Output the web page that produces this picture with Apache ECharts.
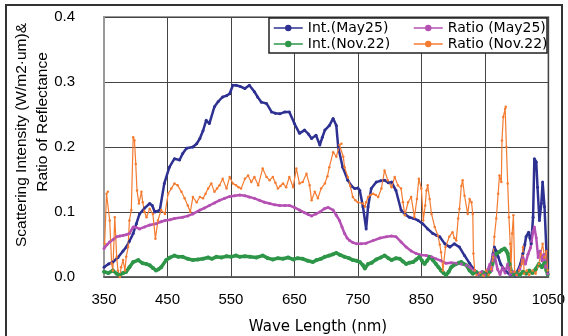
<!DOCTYPE html>
<html><head><meta charset="utf-8">
<script src="https://cdn.jsdelivr.net/npm/echarts@6/dist/echarts.min.js"></script>
<style>html,body{margin:0;padding:0;background:#fff}#c{width:568px;height:336px}</style>
</head><body><div id="c"></div>
<script>
// wavelength (nm) / value pairs
const intMay25 = [[350,0.015],[357,0.02],[364,0.023],[372,0.03],[380,0.04],[385,0.046],[390,0.055],[396,0.067],[401,0.082],[406,0.097],
[414,0.106],[422,0.113],[426,0.11],[430,0.10],[438,0.103],[445,0.144],[453,0.169],[461,0.182],[469,0.18],[474,0.19],
[480,0.198],[490,0.2],[496,0.205],[501,0.213],[506,0.225],[511,0.241],[516,0.236],[524,0.262],[530,0.27],[537,0.277],
[543,0.279],[548,0.282],[553,0.295],[558,0.295],[565,0.293],[572,0.29],[579,0.295],[587,0.285],[592,0.277],[598,0.269],
[606,0.267],[614,0.254],[620,0.252],[627,0.251],[635,0.254],[642,0.254],[650,0.236],[658,0.221],[666,0.226],[672,0.22],
[677,0.213],[684,0.218],[690,0.203],[694,0.215],[698,0.226],[705,0.233],[711,0.244],[716,0.233],[719,0.2],[726,0.169],
[734,0.149],[740,0.14],[745,0.136],[750,0.137],[753,0.133],[758,0.108],[763,0.074],[766,0.108],[771,0.136],[779,0.146],
[786,0.148],[792,0.149],[798,0.145],[803,0.146],[810,0.133],[818,0.103],[825,0.096],[831,0.092],[838,0.09],[845,0.087],
[852,0.082],[860,0.074],[868,0.067],[874,0.064],[879,0.062],[887,0.051],[895,0.046],[902,0.051],[910,0.046],[918,0.033],
[926,0.021],[930,0.015],[934,0.01],[939,0.005],[946,0.008],[952,0.005],[958,0.01],[963,0.036],[965,0.046],[968,0.04],
[971,0.031],[975,0.02],[978,0.015],[984,0.008],[990,0.003],[994,0.005],[998,0.002],[1002,0.01],[1006,0.02],[1010,0.036],
[1013,0.05],[1015,0.062],[1019,0.069],[1021,0.06],[1023,0.051],[1026,0.092],[1028,0.182],[1031,0.177],[1033,0.138],[1036,0.087],
[1039,0.113],[1041,0.146],[1044,0.108],[1047,0.041],[1049,0.008]];

const intNov22 = [[350,0.008],[357,0.006],[364,0.01],[370,0.005],[375,0.003],[380,0.006],[385,0.008],[390,0.015],[396,0.023],[404,0.026],
[411,0.021],[417,0.02],[422,0.018],[427,0.014],[432,0.01],[436,0.012],[440,0.015],[448,0.026],[454,0.03],[461,0.033],
[467,0.031],[474,0.031],[482,0.028],[490,0.026],[498,0.027],[506,0.028],[514,0.03],[520,0.028],[527,0.031],[535,0.03],
[543,0.032],[550,0.031],[558,0.033],[564,0.031],[572,0.032],[580,0.031],[590,0.03],[600,0.033],[608,0.029],[616,0.027],
[624,0.029],[632,0.028],[640,0.03],[648,0.027],[655,0.029],[663,0.028],[671,0.025],[679,0.023],[685,0.026],[692,0.028],
[698,0.031],[705,0.033],[711,0.035],[716,0.037],[722,0.034],[729,0.031],[736,0.029],[742,0.026],[748,0.025],[753,0.023],
[758,0.018],[761,0.013],[766,0.02],[772,0.022],[779,0.027],[786,0.03],[792,0.033],[798,0.029],[803,0.026],[810,0.029],
[816,0.028],[821,0.024],[826,0.02],[831,0.022],[837,0.023],[842,0.027],[847,0.031],[851,0.025],[855,0.02],[859,0.025],
[863,0.031],[868,0.026],[873,0.02],[877,0.015],[881,0.01],[885,0.006],[889,0.003],[893,0.008],[897,0.015],[901,0.018],
[905,0.02],[909,0.022],[913,0.023],[917,0.02],[921,0.018],[926,0.01],[931,0.005],[936,0.008],[942,0.004],[948,0.007],
[953,0.003],[958,0.008],[962,0.02],[965,0.03],[968,0.036],[972,0.038],[976,0.041],[981,0.044],[984,0.04],[986,0.036],
[989,0.02],[992,0.007],[996,0.004],[1000,0.006],[1005,0.003],[1010,0.008],[1015,0.005],[1020,0.01],[1025,0.006],[1030,0.012],
[1035,0.02],[1040,0.015],[1044,0.022],[1047,0.01],[1049,0.004]];

const ratioMay25 = [[350,0.044],[355,0.05],[359,0.054],[365,0.058],[370,0.062],[375,0.063],[380,0.064],[385,0.065],[390,0.067],[396,0.077],
[401,0.076],[406,0.074],[414,0.077],[422,0.08],[432,0.082],[440,0.085],[446,0.087],[454,0.088],[461,0.09],[474,0.092],
[482,0.094],[490,0.097],[501,0.103],[508,0.106],[516,0.11],[524,0.114],[532,0.118],[540,0.121],[548,0.124],[556,0.125],
[564,0.126],[572,0.125],[579,0.123],[587,0.121],[595,0.118],[603,0.115],[611,0.113],[619,0.111],[627,0.11],[635,0.11],
[642,0.11],[650,0.107],[658,0.103],[666,0.099],[672,0.096],[677,0.094],[684,0.097],[690,0.1],[697,0.105],[703,0.107],
[711,0.103],[716,0.095],[721,0.087],[725,0.077],[729,0.067],[733,0.06],[737,0.056],[742,0.053],[748,0.051],[755,0.051],
[763,0.052],[774,0.056],[785,0.06],[795,0.062],[803,0.063],[810,0.062],[818,0.054],[826,0.046],[834,0.04],[842,0.036],
[850,0.034],[858,0.033],[866,0.031],[873,0.028],[881,0.025],[889,0.021],[897,0.022],[905,0.021],[913,0.02],[921,0.018],
[928,0.014],[934,0.01],[940,0.004],[945,0.008],[950,0.003],[955,0.012],[958,0.02],[961,0.01],[963,0.035],[966,0.03],
[970,0.012],[974,0.004],[978,0.015],[982,0.006],[986,0.02],[990,0.004],[995,0.008],[1000,0.003],[1005,0.012],[1010,0.03],
[1014,0.02],[1018,0.035],[1022,0.045],[1026,0.07],[1028,0.077],[1031,0.06],[1034,0.03],[1037,0.04],[1040,0.025],[1043,0.035],
[1046,0.015],[1049,0.005]];

const ratioNov22 = [[351,0.051],[354,0.128],[356,0.131],[359,0.087],[362,0.021],[364,0.01],[367,0.092],[370,0.031],[372,0.01],[375,0.0],
[377,0.015],[380,0.026],[383,0.01],[385,0.031],[388,0.046],[390,0.087],[393,0.103],[396,0.215],[398,0.21],[400,0.174],
[402,0.133],[405,0.113],[409,0.131],[411,0.115],[414,0.1],[417,0.092],[422,0.105],[427,0.097],[431,0.059],[435,0.087],
[440,0.103],[446,0.097],[451,0.128],[456,0.136],[461,0.144],[466,0.141],[472,0.131],[477,0.121],[482,0.11],[486,0.1],
[490,0.123],[496,0.115],[501,0.123],[506,0.121],[510,0.128],[514,0.136],[519,0.144],[524,0.131],[528,0.136],[532,0.141],
[537,0.151],[543,0.136],[548,0.154],[553,0.144],[558,0.141],[562,0.138],[566,0.136],[572,0.151],[577,0.156],[582,0.146],
[587,0.154],[593,0.141],[600,0.167],[606,0.154],[611,0.149],[616,0.154],[620,0.145],[624,0.136],[628,0.14],[632,0.144],
[637,0.138],[642,0.154],[648,0.138],[653,0.167],[658,0.144],[663,0.146],[669,0.159],[674,0.141],[677,0.118],[682,0.131],
[687,0.121],[692,0.136],[698,0.144],[702,0.155],[705,0.169],[711,0.192],[716,0.185],[721,0.203],[724,0.205],[727,0.185],
[729,0.169],[734,0.154],[738,0.14],[742,0.123],[746,0.118],[750,0.115],[758,0.113],[761,0.108],[763,0.115],[766,0.123],
[770,0.126],[774,0.128],[778,0.126],[782,0.123],[787,0.136],[792,0.164],[797,0.149],[803,0.138],[808,0.154],[813,0.141],
[818,0.136],[821,0.115],[824,0.095],[829,0.115],[834,0.123],[839,0.092],[843,0.12],[846,0.151],[850,0.136],[853,0.087],
[856,0.11],[858,0.133],[860,0.141],[863,0.12],[866,0.097],[871,0.077],[876,0.064],[879,0.05],[881,0.038],[884,0.01],
[888,0.046],[894,0.062],[899,0.069],[902,0.06],[905,0.056],[908,0.09],[910,0.105],[913,0.14],[915,0.149],[918,0.125],
[923,0.097],[926,0.12],[929,0.115],[931,0.097],[932,0.036],[934,0.01],[937,0.003],[942,0.006],[948,0.002],[952,0.01],
[956,0.003],[960,0.012],[963,0.03],[965,0.062],[968,0.09],[971,0.128],[973,0.156],[976,0.146],[977,0.21],[979,0.246],
[982,0.259],[983,0.262],[984,0.2],[986,0.144],[988,0.092],[990,0.051],[991,0.008],[993,0.067],[995,0.095],[997,0.008],
[1000,0.003],[1004,0.01],[1008,0.02],[1010,0.046],[1012,0.005],[1016,0.01],[1020,0.003],[1025,0.01],[1030,0.005],[1035,0.02],
[1038,0.035],[1041,0.051],[1044,0.03],[1047,0.04],[1049,0.01]];

const xMin = 350, xMax = 1050, xStep = 100;
const yMin = 0, yMax = 0.4, yStep = 0.1;
const seriesNames = ['Int.(May25)', 'Int.(Nov.22)', 'Ratio (May25)', 'Ratio (Nov.22)'];
const seriesColors = ['#2E3192', '#2E9648', '#B550B3', '#F47B30'];
const yTitle1 = 'Scattering Intensity (W/m2·um)&';
const yTitle2 = 'Ratio of Reflectance';
const xTitle = 'Wave Length (nm)';

const chart = echarts.init(document.getElementById('c'), null, {renderer: 'canvas'});
const font = 'Liberation Sans, Arial, sans-serif';
const gridColor = '#444';

function mk(name, data, color, width, sym) {
  return {
    name: name, type: 'line', data: data, color: color,
    showSymbol: true, symbol: 'circle', symbolSize: sym,
    lineStyle: {width: width, color: color},
    itemStyle: {color: color},
    animation: false
  };
}

const legendCommon = {top: 21, orient: 'vertical', padding: 0, itemGap: 2, itemWidth: 29, itemHeight: 8, itemTextGap: 3,
  lineStyle: {width: 1.5}, textStyle: {fontFamily: 'DejaVu Sans', fontSize: 14, color: '#000'}};

chart.setOption({
  animation: false,
  grid: {left: 104, right: 19, top: 17, bottom: 59, show: true, borderColor: '#999', borderWidth: 2, backgroundColor: 'transparent'},
  xAxis: {
    type: 'value', min: xMin, max: xMax, interval: xStep,
    axisLine: {show: true, lineStyle: {color: '#555', width: 1.5}},
    axisTick: {show: false},
    axisLabel: {color: '#000', fontFamily: font, fontSize: 15, margin: 15, showMaxLabel: true, showMinLabel: true,
      formatter: v => String(v)},
    splitLine: {show: true, lineStyle: {color: gridColor, width: 1}}
  },
  yAxis: {
    type: 'value', min: yMin, max: yMax, interval: yStep,
    axisLine: {show: true, lineStyle: {color: '#999', width: 2}},
    axisTick: {show: false},
    axisLabel: {color: '#000', fontFamily: font, fontSize: 15, margin: 29, formatter: v => v.toFixed(1)},
    splitLine: {show: true, lineStyle: {color: gridColor, width: 1}}
  },
  legend: [
    Object.assign({left: 273, data: [seriesNames[0], seriesNames[1]]}, legendCommon),
    Object.assign({left: 413, data: [seriesNames[2], seriesNames[3]]}, legendCommon)
  ],
  graphic: [
    {type: 'rect', z: 3, shape: {x: 269, y: 18, width: 278, height: 35}, style: {fill: '#fff', stroke: '#222', lineWidth: 1.5}},
    {type: 'rect', z: 10, shape: {x: 6, y: 5, width: 556, height: 400}, style: {fill: 'none', stroke: '#333', lineWidth: 2}},
    {type: 'text', z: 10, x: 22, y: 135, rotation: Math.PI / 2,
     style: {text: yTitle1, fontFamily: font, fontSize: 15.5, fill: '#000', textAlign: 'center', textVerticalAlign: 'middle'}},
    {type: 'text', z: 10, x: 43, y: 122, rotation: Math.PI / 2,
     style: {text: yTitle2, fontFamily: font, fontSize: 15.5, fill: '#000', textAlign: 'center', textVerticalAlign: 'middle'}},
    {type: 'text', z: 10, x: 318, y: 327,
     style: {text: xTitle, fontFamily: 'DejaVu Sans', fontSize: 15, fill: '#000', textAlign: 'center', textVerticalAlign: 'middle'}}
  ],
  series: [
    mk(seriesNames[0], intMay25, seriesColors[0], 2.5, 3),
    mk(seriesNames[1], intNov22, seriesColors[1], 3.5, 4),
    mk(seriesNames[2], ratioMay25, seriesColors[2], 2.5, 3),
    mk(seriesNames[3], ratioNov22, seriesColors[3], 1.2, 2.5)
  ]
});
</script></body></html>
